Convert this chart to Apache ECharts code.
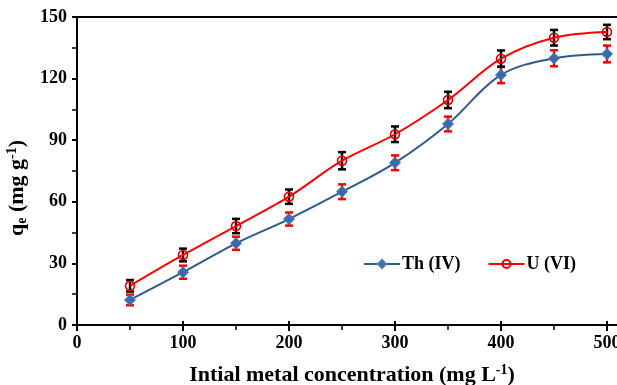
<!DOCTYPE html>
<html><head><meta charset="utf-8">
<script src="https://cdn.jsdelivr.net/npm/echarts@6/dist/echarts.min.js"></script>
<style>html,body{margin:0;padding:0;background:#fff}#c{width:617px;height:385px}</style>
</head><body><div id="c"></div>
<script>
var concentrations = [50, 100, 150, 200, 250, 300, 350, 400, 450, 500];
var thValues = [12.2, 25.7, 39.8, 51.6, 64.9, 79.0, 97.9, 121.8, 129.9, 132.0];
var thErrors = [2.6, 3.2, 3.2, 3.2, 3.6, 3.6, 3.6, 4.0, 3.9, 4.1];
var uValues = [19.1, 34.1, 48.2, 62.5, 80.0, 92.9, 109.6, 129.7, 139.9, 142.7];
var uErrors = [2.8, 3.1, 3.5, 3.5, 4.2, 3.8, 4.0, 4.0, 3.8, 3.5];
var xTicks = [0, 100, 200, 300, 400, 500];
var yTicks = [0, 30, 60, 90, 120, 150];

var FONT = "'Liberation Serif','Times New Roman',serif";
var chart = echarts.init(document.getElementById('c'), null, {renderer: 'canvas'});

function pts(vals) { return concentrations.map(function (x, i) { return [x, vals[i]]; }); }
function errData(vals, errs) { return concentrations.map(function (x, i) { return [x, vals[i] - errs[i], vals[i] + errs[i]]; }); }
function errSeries(name, vals, errs, color) {
  return {
    type: 'custom', name: name + ' err', xAxisIndex: 0, yAxisIndex: 0, z: 1,
    data: errData(vals, errs), silent: true,
    renderItem: function (params, api) {
      var x = api.value(0);
      var lo = api.coord([x, api.value(1)]);
      var hi = api.coord([x, api.value(2)]);
      var hw = 4;
      var st = {stroke: color, lineWidth: 2.5};
      return {type: 'group', children: [
        {type: 'line', shape: {x1: lo[0], y1: lo[1], x2: hi[0], y2: hi[1]}, style: st},
        {type: 'line', shape: {x1: lo[0] - hw, y1: lo[1], x2: lo[0] + hw, y2: lo[1]}, style: st},
        {type: 'line', shape: {x1: hi[0] - hw, y1: hi[1], x2: hi[0] + hw, y2: hi[1]}, style: st}
      ]};
    }
  };
}

var gridBox = {left: 77, right: 10, top: 17, bottom: 60, containLabel: false, outerBoundsMode: 'none'};
var option = {
  animation: false,
  backgroundColor: '#fff',
  grid: [
    gridBox,
    {left: 77, right: 0, top: 17, bottom: 60, containLabel: false, outerBoundsMode: 'none'},
    gridBox
  ],
  legend: {
    left: 358, top: 250, itemWidth: 36, itemHeight: 10, itemGap: 27,
    data: ['Th (IV)', 'U (VI)'],
    textStyle: {fontFamily: FONT, fontWeight: 'bold', fontSize: 18, color: '#000', padding: [0, 0, 0, -3]}
  },
  xAxis: [
    {
      type: 'value', gridIndex: 0, min: 0, max: 500, interval: 100,
      axisLine: {show: false},
      axisTick: {show: true, inside: false, length: 6, lineStyle: {color: '#000', width: 2}},
      minorTick: {show: true, splitNumber: 2, length: 5, lineStyle: {color: '#000', width: 1.5}},
      splitLine: {show: false},
      axisLabel: {margin: 9, fontFamily: FONT, fontWeight: 'bold', fontSize: 18, color: '#000',
        formatter: function (v) { return xTicks.indexOf(v) >= 0 ? String(v) : ''; }},
      name: '{n|Intial metal concentration (mg L}{sup|-1}{n|)}',
      nameLocation: 'middle', nameGap: 38,
      nameTextStyle: {padding: [0, 0, 0, 20], rich: {
        n: {fontFamily: FONT, fontWeight: 'bold', fontSize: 22, color: '#000', lineHeight: 24},
        sup: {fontFamily: FONT, fontWeight: 'bold', fontSize: 14, color: '#000', verticalAlign: 'top', lineHeight: 24, padding: [0, 0, 9, 0]}
      }}
    },
    {
      type: 'value', gridIndex: 1, min: 0, max: 1, position: 'bottom',
      axisLine: {show: true, lineStyle: {color: '#000', width: 2}},
      axisTick: {show: false}, axisLabel: {show: false}, splitLine: {show: false}
    },
    {
      type: 'value', gridIndex: 1, min: 0, max: 1, position: 'top',
      axisLine: {show: true, lineStyle: {color: '#000', width: 2}},
      axisTick: {show: false}, axisLabel: {show: false}, splitLine: {show: false}
    },
    {
      type: 'value', gridIndex: 2, min: 0, max: 500, interval: 100, position: 'bottom',
      axisLine: {show: false},
      axisTick: {show: true, inside: true, length: 4, lineStyle: {color: '#000', width: 2}},
      axisLabel: {show: false}, splitLine: {show: false}
    }
  ],
  yAxis: [
    {
      type: 'value', gridIndex: 0, min: 0, max: 150, interval: 30,
      axisLine: {show: true, lineStyle: {color: '#000', width: 2}},
      axisTick: {show: true, inside: false, length: 5, lineStyle: {color: '#000', width: 2}},
      minorTick: {show: true, splitNumber: 2, length: 5, lineStyle: {color: '#000', width: 1.5}},
      splitLine: {show: false},
      axisLabel: {margin: 10, fontFamily: FONT, fontWeight: 'bold', fontSize: 18, color: '#000',
        formatter: function (v) { return yTicks.indexOf(v) >= 0 ? String(v) : ''; }},
      name: '{n|q}{sub|e}{n| (mg g}{sup|-1}{n|)}',
      nameLocation: 'middle', nameGap: 47, nameRotate: 90,
      nameTextStyle: {padding: [0, 34, 0, 0], rich: {
        n: {fontFamily: FONT, fontWeight: 'bold', fontSize: 22, color: '#000', lineHeight: 24},
        sub: {fontFamily: FONT, fontWeight: 'bold', fontSize: 14, color: '#000', verticalAlign: 'bottom', lineHeight: 24, padding: [8, 0, 0, 0]},
        sup: {fontFamily: FONT, fontWeight: 'bold', fontSize: 14, color: '#000', verticalAlign: 'top', lineHeight: 24, padding: [0, 0, 9, 0]}
      }}
    },
    {type: 'value', gridIndex: 1, min: 0, max: 1, show: false},
    {type: 'value', gridIndex: 2, min: 0, max: 1, show: false}
  ],
  series: [
    errSeries('Th (IV)', thValues, thErrors, '#FF0000'),
    errSeries('U (VI)', uValues, uErrors, '#000000'),
    {
      name: 'Th (IV)', type: 'line', xAxisIndex: 0, yAxisIndex: 0, z: 3,
      data: pts(thValues), smooth: 0.35,
      symbol: 'diamond', symbolSize: 11,
      lineStyle: {color: '#2F5A8F', width: 2},
      itemStyle: {color: '#3B6AAA', borderColor: '#4A7BBE', borderWidth: 1}
    },
    {
      name: 'U (VI)', type: 'line', xAxisIndex: 0, yAxisIndex: 0, z: 4,
      data: pts(uValues), smooth: 0.35,
      symbol: 'circle', symbolSize: 9,
      lineStyle: {color: '#FF0000', width: 2},
      itemStyle: {color: 'rgba(255,255,255,0)', borderColor: '#E00000', borderWidth: 1.6}
    }
  ]
};
chart.setOption(option);
</script>
</body></html>
